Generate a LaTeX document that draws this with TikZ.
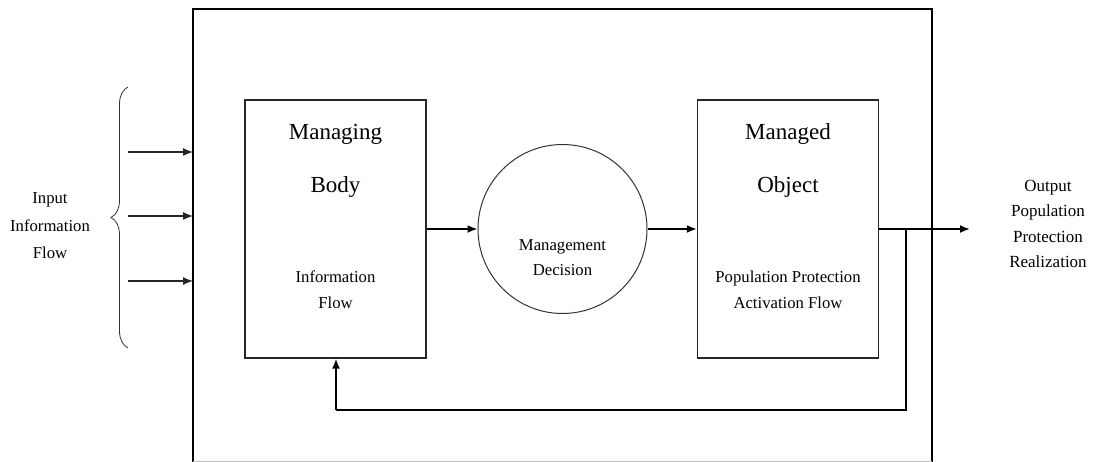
\documentclass[tikz,border=0pt]{standalone}
\usepackage{fontspec}
\setmainfont{Liberation Serif}
\usetikzlibrary{arrows.meta,decorations.pathreplacing,calc}
\begin{document}
\begin{tikzpicture}[x=1pt,y=-1pt,
  box/.style={draw=black!85,line width=1.3pt,minimum width=181pt,minimum height=258pt,inner sep=0pt},
  dec/.style={draw=black!80,line width=1pt,circle,minimum size=169pt,inner sep=0pt},
  big/.style={font=\fontsize{23}{26}\selectfont,inner sep=0pt},
  small/.style={font=\fontsize{16.7}{26}\selectfont,align=center,inner sep=0pt},
  flow/.style={line width=1.8pt,-{Latex[length=10pt,width=8pt]}},
  inarrow/.style={line width=1.3pt,draw=black!85,-{Latex[length=10pt,width=8pt]}}]
\useasboundingbox (0,0) rectangle (1095,462);
% outer frame
\draw[line width=2.6pt] (193,462) -- (193,9) -- (932,9) -- (932,462);
\draw[black!25,line width=1pt] (193,461.5) -- (932,461.5);
% boxes
\node[box] (body) at (335.5,229) {};
\node[box] (obj) at (788,229) {};
\node[dec] (dec) at (562.5,229) {};
% texts
\node[big] (t1) at (335.5,134) {Managing};
\node[big] (t2) at (335.5,187) {Body};
\node[small] (t3) at (335.5,290) {Information\\Flow};
\node[big] (t4) at (788,134) {Managed};
\node[big] (t5) at (788,187) {Object};
\node[small] (t6) at (788,290) {Population Protection\\Activation Flow};
\node[small,font=\fontsize{16.7}{25}\selectfont] (t7) at (562.5,257.5) {Management\\Decision};
\node[small,font=\fontsize{17}{25.5}\selectfont] (out) at (1048,224) {Output\\Population\\Protection\\Realization};
\node[small,font=\fontsize{16.7}{27.5}\selectfont] (in) at (50,226) {Input\\Information\\Flow};
% main flow
\draw[flow] (body.east) -- (dec.west);
\draw[flow] (dec.east) -- (obj.west);
\coordinate (oend) at (970,229);
\draw[flow] (obj.east) -- (oend);
% feedback
\coordinate (j) at (906,229);
\coordinate (fb) at (336,410);
\draw[line width=1.8pt] (j) |- (fb);
\draw[flow] (fb) -- (fb |- body.south);
% input arrows
\foreach \y/\n in {152/a,216/b,281/c}{
  \coordinate (s\n) at (128,\y);
  \coordinate (e\n) at (193,\y);
  \draw[inarrow] (s\n) -- (e\n);
}
% brace
\coordinate (b1) at (128,348);
\coordinate (b2) at (128,87);
\draw[decorate,decoration={brace,amplitude=17pt},line width=0.8pt,black!80] (b1) -- (b2);
\end{tikzpicture}
\end{document}
